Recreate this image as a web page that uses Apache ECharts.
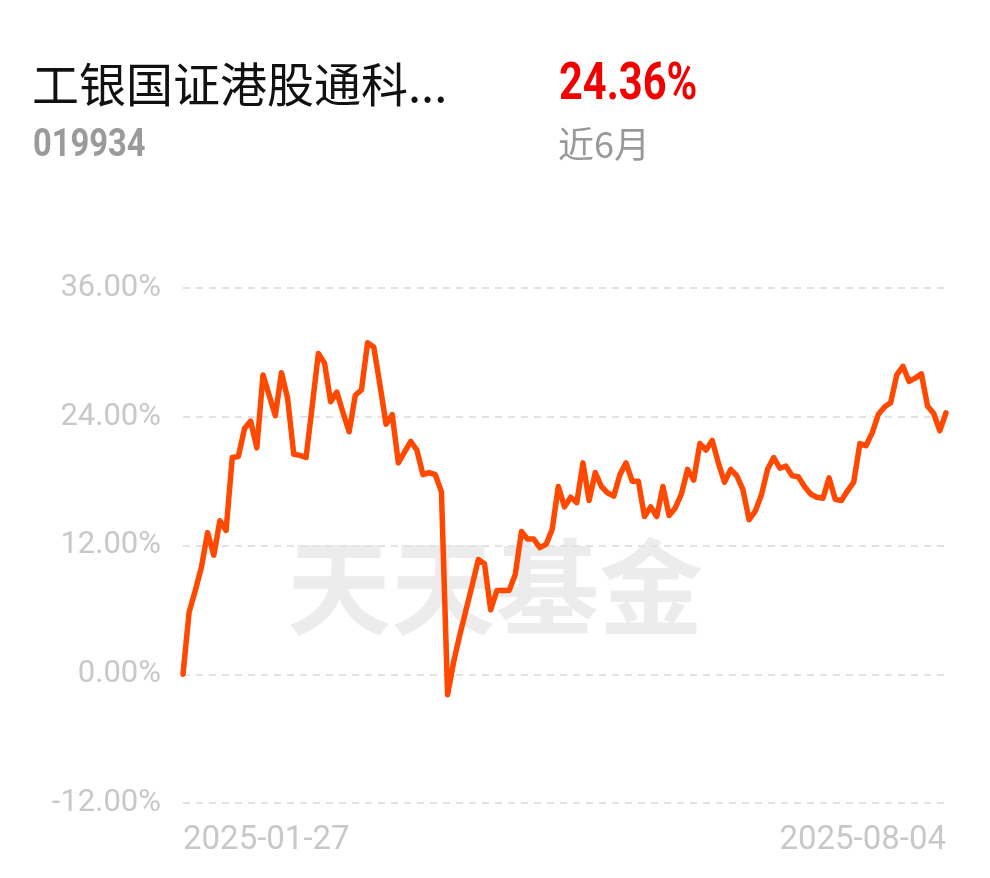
<!DOCTYPE html>
<html>
<head>
<meta charset="utf-8">
<script src="https://cdn.jsdelivr.net/npm/echarts@6.0.0/dist/echarts.min.js"></script>
<style>
html,body{margin:0;padding:0;background:#fff;}
#chart{width:990px;height:878px;}
</style>
</head>
<body>
<div id="chart"></div>
<script>
const fundName = '工银国证港股通科...';
const fundCode = '019934';
const periodReturn = '24.36%';
const periodLabel = '近6月';
const watermark = '天天基金';

const dates = [
 '2025-01-27',
 '2025-02-05','2025-02-06','2025-02-07','2025-02-10','2025-02-11','2025-02-12','2025-02-13','2025-02-14','2025-02-17','2025-02-18','2025-02-19','2025-02-20','2025-02-21','2025-02-24','2025-02-25','2025-02-26','2025-02-27','2025-02-28',
 '2025-03-03','2025-03-04','2025-03-05','2025-03-06','2025-03-07','2025-03-10','2025-03-11','2025-03-12','2025-03-13','2025-03-14','2025-03-17','2025-03-18','2025-03-19','2025-03-20','2025-03-21','2025-03-24','2025-03-25','2025-03-26','2025-03-27','2025-03-28','2025-03-31',
 '2025-04-01','2025-04-02','2025-04-03','2025-04-07','2025-04-08','2025-04-09','2025-04-10','2025-04-11','2025-04-14','2025-04-15','2025-04-16','2025-04-17','2025-04-18','2025-04-21','2025-04-22','2025-04-23','2025-04-24','2025-04-25','2025-04-28','2025-04-29','2025-04-30',
 '2025-05-06','2025-05-07','2025-05-08','2025-05-09','2025-05-12','2025-05-13','2025-05-14','2025-05-15','2025-05-16','2025-05-19','2025-05-20','2025-05-21','2025-05-22','2025-05-23','2025-05-26','2025-05-27','2025-05-28','2025-05-29','2025-05-30',
 '2025-06-03','2025-06-04','2025-06-05','2025-06-06','2025-06-09','2025-06-10','2025-06-11','2025-06-12','2025-06-13','2025-06-16','2025-06-17','2025-06-18','2025-06-19','2025-06-20','2025-06-23','2025-06-24','2025-06-25','2025-06-26','2025-06-27','2025-06-30',
 '2025-07-01','2025-07-02','2025-07-03','2025-07-04','2025-07-07','2025-07-08','2025-07-09','2025-07-10','2025-07-11','2025-07-14','2025-07-15','2025-07-16','2025-07-17','2025-07-18','2025-07-21','2025-07-22','2025-07-23','2025-07-24','2025-07-25','2025-07-28','2025-07-29','2025-07-30','2025-07-31',
 '2025-08-01','2025-08-04'
];

const returns = [
 0.0,
 5.8,7.8,10.0,13.2,11.1,14.3,13.4,20.2,20.3,22.9,23.6,21.1,27.9,26.0,24.1,28.1,25.7,20.5,
 20.4,20.2,25.0,29.9,29.0,25.4,26.3,24.4,22.6,26.0,26.5,30.9,30.5,27.0,23.3,24.2,19.7,20.7,21.7,20.9,18.6,
 18.8,18.6,17.0,-1.9,1.2,3.7,6.0,8.3,10.7,10.3,6.0,7.8,7.8,7.8,9.3,13.3,12.6,12.6,11.8,12.1,13.5,
 17.5,15.6,16.5,16.0,19.7,16.2,18.8,17.5,16.9,16.6,18.6,19.7,18.0,18.0,14.7,15.6,14.7,17.5,14.8,
 15.5,16.8,19.1,18.1,21.5,20.9,21.8,19.7,17.9,19.1,18.5,17.2,14.4,15.2,16.7,19.1,20.2,19.2,19.4,18.5,
 18.4,17.5,16.8,16.5,16.4,18.3,16.3,16.2,17.1,17.9,21.5,21.3,22.5,24.2,24.9,25.3,27.9,28.7,27.3,27.6,28.0,25.0,24.3,
 22.7,24.36
];

const yMin = -12, yMax = 36, yStep = 12;

const chart = echarts.init(document.getElementById('chart'), null, {renderer: 'canvas'});
const last = dates.length - 1;

chart.setOption({
  animation: false,
  backgroundColor: '#ffffff',
  grid: {left: 183, right: 44, top: 288, bottom: 75, containLabel: false},
  graphic: [
    {type: 'text', x: 32, y: 61, z: 10, style: {text: fundName, fontSize: 47, fill: '#111', verticalAlign: 'top', fontFamily: '"Noto Sans CJK SC", sans-serif'}},
    {type: 'text', x: 33, y: 127, z: 10, scaleX: 0.86, style: {text: fundCode, fontSize: 38, fontWeight: 'bold', fill: '#9a9a9a', verticalAlign: 'top', fontFamily: 'Roboto, sans-serif'}},
    {type: 'text', x: 559, y: 60, z: 10, scaleX: 0.8, style: {text: periodReturn, fontSize: 52, fontWeight: 'bold', fill: '#f20000', verticalAlign: 'top', fontFamily: 'Roboto, sans-serif'}},
    {type: 'text', x: 558, y: 126, z: 10, style: {text: periodLabel, fontSize: 36, fill: '#999', verticalAlign: 'top', fontFamily: '"Noto Sans CJK SC", sans-serif'}},
    {type: 'text', x: 287, y: 535, z: 0, style: {text: watermark, fontSize: 104, fontWeight: 'bold', fill: '#ececec', verticalAlign: 'top', fontFamily: '"Noto Sans CJK SC", sans-serif'}}
  ],
  xAxis: {
    type: 'category',
    data: dates,
    boundaryGap: false,
    axisLine: {show: false},
    axisTick: {show: false},
    splitLine: {show: false},
    axisLabel: {
      interval: function (idx) { return idx === 0 || idx === last; },
      alignMinLabel: 'left',
      alignMaxLabel: 'right',
      margin: 21,
      fontSize: 33,
      color: '#c8c8c8',
      fontFamily: 'Roboto, sans-serif'
    }
  },
  yAxis: {
    type: 'value',
    min: yMin,
    max: yMax,
    interval: yStep,
    axisLine: {show: false},
    axisTick: {show: false},
    axisLabel: {
      margin: 22,
      fontSize: 31,
      color: '#c8c8c8',
      fontFamily: 'Roboto, sans-serif',
      formatter: function (v) { return v.toFixed(2) + '%'; }
    },
    splitLine: {show: true, lineStyle: {color: '#e2e2e2', width: 2, type: [7, 6]}}
  },
  series: [{
    type: 'line',
    data: returns,
    symbol: 'none',
    smooth: false,
    z: 5,
    lineStyle: {color: '#ff4800', width: 5.5, join: 'round', cap: 'round'}
  }]
});
</script>
</body>
</html>
